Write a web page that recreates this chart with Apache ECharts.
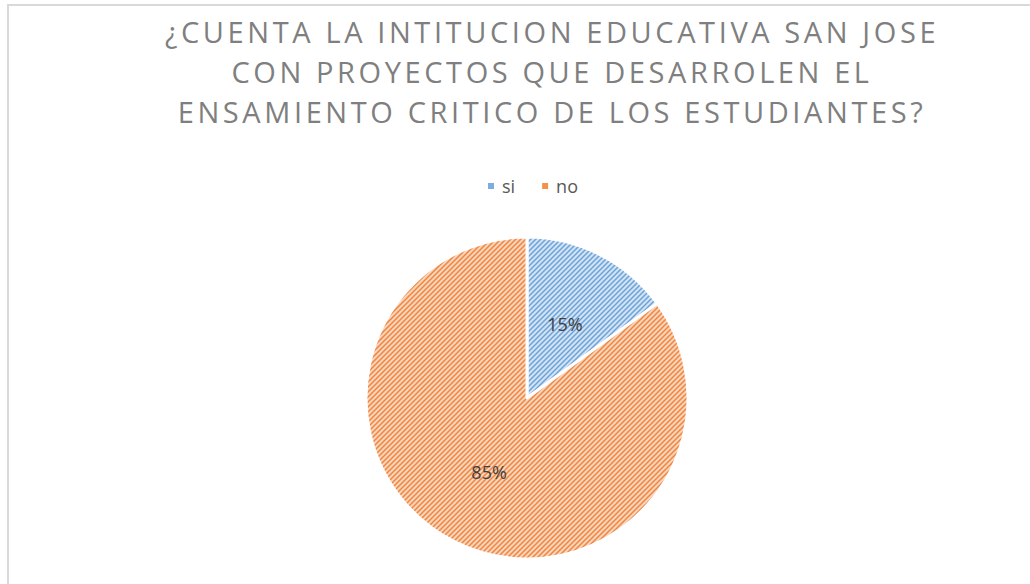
<!DOCTYPE html>
<html>
<head>
<meta charset="utf-8">
<script src="https://cdn.jsdelivr.net/npm/echarts@6/dist/echarts.min.js"></script>
<style>
  html, body { margin: 0; padding: 0; background: #fff; }
  #chart { width: 1030px; height: 584px; }
</style>
</head>
<body>
<div id="chart"></div>
<script>
var titleLines = [
    '¿CUENTA LA INTITUCION EDUCATIVA SAN JOSE',
    'CON PROYECTOS QUE DESARROLEN EL',
    'ENSAMIENTO CRITICO DE LOS ESTUDIANTES?'
];
var categories = ['si', 'no'];
var values = [15, 85];

// diagonal hatch like the excel "wide upward diagonal" fill
function hatch(bg, fg) {
    var c = document.createElement('canvas');
    c.width = 5; c.height = 5;
    var ctx = c.getContext('2d');
    ctx.fillStyle = bg;
    ctx.fillRect(0, 0, 5, 5);
    ctx.strokeStyle = fg;
    ctx.lineWidth = 1.5;
    ctx.beginPath();
    ctx.moveTo(-1, 6); ctx.lineTo(6, -1);
    ctx.moveTo(-1, 1); ctx.lineTo(1, -1);
    ctx.moveTo(4, 6); ctx.lineTo(6, 4);
    ctx.stroke();
    return c;
}

var fills = [
    { image: hatch('#d3e3f3', '#6aa2da'), repeat: 'repeat' },
    { image: hatch('#fbd5bb', '#ef853e'), repeat: 'repeat' }
];
var legendColors = ['#7aaee0', '#f4914c'];

var myChart = echarts.init(document.getElementById('chart'), null, { renderer: 'svg' });
var option = {
    backgroundColor: '#fff',
    title: {
        text: titleLines.join('\n'),
        left: 547,
        top: 6,
        textAlign: 'center',
        textStyle: {
            fontFamily: 'Open Sans',
            fontSize: 29,
            fontWeight: 'normal',
            color: '#7f7f7f',
            lineHeight: 40
        }
    },
    legend: {
        top: 172,
        left: 481,
        itemWidth: 8,
        itemHeight: 8,
        itemGap: 25,
        icon: 'rect',
        textStyle: { fontFamily: 'Open Sans', fontSize: 18, color: '#595959', padding: [0, 0, 0, 2] },
        data: categories.map(function (n, i) {
            return { name: n, itemStyle: { color: legendColors[i] } };
        })
    },
    graphic: [
        {
            type: 'polyline',
            shape: { points: [[8, 584], [8, 5], [1030, 5]] },
            style: { stroke: '#d9d9d9', lineWidth: 2, fill: null }
        }
    ],
    series: [
        {
            name: 'respuesta',
            type: 'pie',
            radius: 161,
            center: [527, 398],
            startAngle: 90,
            clockwise: true,
            data: categories.map(function (n, i) {
                return { name: n, value: values[i], itemStyle: { color: fills[i] } };
            }),
            itemStyle: { borderColor: '#fff', borderWidth: 3 },
            label: {
                position: 'inside',
                formatter: '{c}%',
                fontFamily: 'Open Sans',
                fontSize: 18,
                color: '#404040'
            },
            labelLine: { show: false },
            emphasis: { disabled: true }
        }
    ]
};
myChart.setOption(option);

// spaced-out capitals in the title, as in the original
function spaceTitle() {
    var texts = document.querySelectorAll('#chart text');
    texts.forEach(function (t) {
        if (titleLines.indexOf(t.textContent) >= 0) {
            t.style.letterSpacing = '3.6px';
        }
    });
}
spaceTitle();
myChart.on('finished', spaceTitle);

window.addEventListener('resize', function () {
    myChart.resize();
});
</script>
</body>
</html>
